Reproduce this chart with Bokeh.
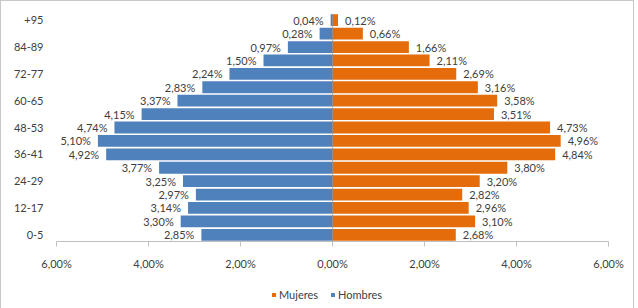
from bokeh.plotting import figure
from bokeh.models import (FixedTicker, CustomJSTickFormatter, Legend, LegendItem,
                          ColumnDataSource, Range1d)
from bokeh.embed import file_html
from bokeh.resources import INLINE
from bokeh.core.properties import value

categories = ["0-5", "6-11", "12-17", "18-23", "24-29", "30-35", "36-41", "42-47",
              "48-53", "54-59", "60-65", "66-71", "72-77", "78-83", "84-89", "90-94", "+95"]
hombres = [2.85, 3.30, 3.14, 2.97, 3.25, 3.77, 4.92, 5.10, 4.74, 4.15, 3.37, 2.83,
           2.24, 1.50, 0.97, 0.28, 0.04]
mujeres = [2.68, 3.10, 2.96, 2.82, 3.20, 3.80, 4.84, 4.96, 4.73, 3.51, 3.58, 3.16,
           2.69, 2.11, 1.66, 0.66, 0.12]
x_ticks = [-6, -4, -2, 0, 2, 4, 6]

FONT = "Lato"
TXT = "#404040"
BLUE = "#4F81BD"
ORANGE = "#E46C0A"
AXIS = "#BFBFBF"

def fmt(v):
    return f"{v:.2f}%".replace(".", ",")

n = len(categories)
idx = list(range(n))
src = ColumnDataSource(dict(
    y=idx,
    h_neg=[-v for v in hombres],
    m=mujeres,
    h_lab=[fmt(v) for v in hombres],
    m_lab=[fmt(v) for v in mujeres],
))

# layout constants (pixels)
W, H, TOP, BOTTOM = 634, 308, 12, 4
band_px = 228.0          # vertical extent of category bands (frame top -> x axis)
px_per_unit = 46.0       # horizontal scale
left_px = 55.0           # pixel position of x = -6
frame_px = H - TOP - BOTTOM
y_hi = n - 0.5
y_lo = y_hi - frame_px * n / band_px
x_lo = x_ticks[0] - left_px / px_per_unit
x_hi = x_lo + W / px_per_unit

p = figure(width=W, height=H, output_backend="svg", toolbar_location=None,
           x_range=Range1d(x_lo, x_hi), y_range=Range1d(y_lo, y_hi),
           min_border_left=0, min_border_right=0, min_border_top=TOP, min_border_bottom=BOTTOM)
p.styles = {"border-left": "1px solid #C8C8C8", "border-top": "1px solid #C8C8C8",
            "border-right": "1px solid #C8C8C8", "box-sizing": "border-box"}
p.outline_line_color = None
p.xgrid.visible = False
p.ygrid.visible = False
p.background_fill_color = "white"
p.border_fill_color = "white"

# vertical category axis line at zero
p.segment(x0=[0], y0=[-0.5], x1=[0], y1=[y_hi], line_color=AXIS, line_width=1)

rm = p.hbar(y="y", left=0, right="m", height=0.88, source=src, fill_color=ORANGE, line_color=None)
rh = p.hbar(y="y", left="h_neg", right=0, height=0.88, source=src, fill_color=BLUE, line_color=None)

p.text(x="m", y="y", text="m_lab", source=src, x_offset=7, text_align="left",
       text_baseline="middle", text_font=value(FONT), text_font_size="11px", text_color=TXT)
p.text(x="h_neg", y="y", text="h_lab", source=src, x_offset=-7, text_align="right",
       text_baseline="middle", text_font=value(FONT), text_font_size="11px", text_color=TXT)

# x axis, drawn at the bottom of the category bands
xa = p.xaxis[0]
xa.fixed_location = -0.5
xa.bounds = (x_ticks[0], x_ticks[-1])
xa.ticker = FixedTicker(ticks=x_ticks)
xa.formatter = CustomJSTickFormatter(code="return Math.abs(tick).toFixed(2).replace('.', ',') + '%';")
xa.axis_line_color = AXIS
xa.major_tick_line_color = AXIS
xa.major_tick_in = 0
xa.major_tick_out = 5
xa.minor_tick_line_color = None
xa.major_label_standoff = 10
xa.major_label_text_font = FONT
xa.major_label_text_font_size = "11px"
xa.major_label_text_color = TXT

# y axis (category labels), placed at the left end of the value axis
ya = p.yaxis[0]
ya.fixed_location = x_ticks[0]
ya.ticker = FixedTicker(ticks=idx[::2])
ya.formatter = CustomJSTickFormatter(args=dict(labels=categories),
                                     code="return labels[Math.round(tick)];")
ya.axis_line_color = None
ya.major_tick_line_color = None
ya.minor_tick_line_color = None
ya.major_tick_in = 0
ya.major_tick_out = 0
ya.major_label_standoff = 13
ya.major_label_text_font = FONT
ya.major_label_text_font_size = "11px"
ya.major_label_text_color = TXT

legend = Legend(items=[LegendItem(label="Mujeres", renderers=[rm]),
                       LegendItem(label="Hombres", renderers=[rh])],
                orientation="horizontal", location=(270, 4),
                glyph_width=5, glyph_height=5, label_standoff=3, spacing=12,
                padding=2, margin=0, label_height=11,
                label_text_font=FONT, label_text_font_size="11px", label_text_color=TXT,
                border_line_color=None, background_fill_alpha=0)
p.add_layout(legend)

open("out.html", "w").write(file_html(p, INLINE))
